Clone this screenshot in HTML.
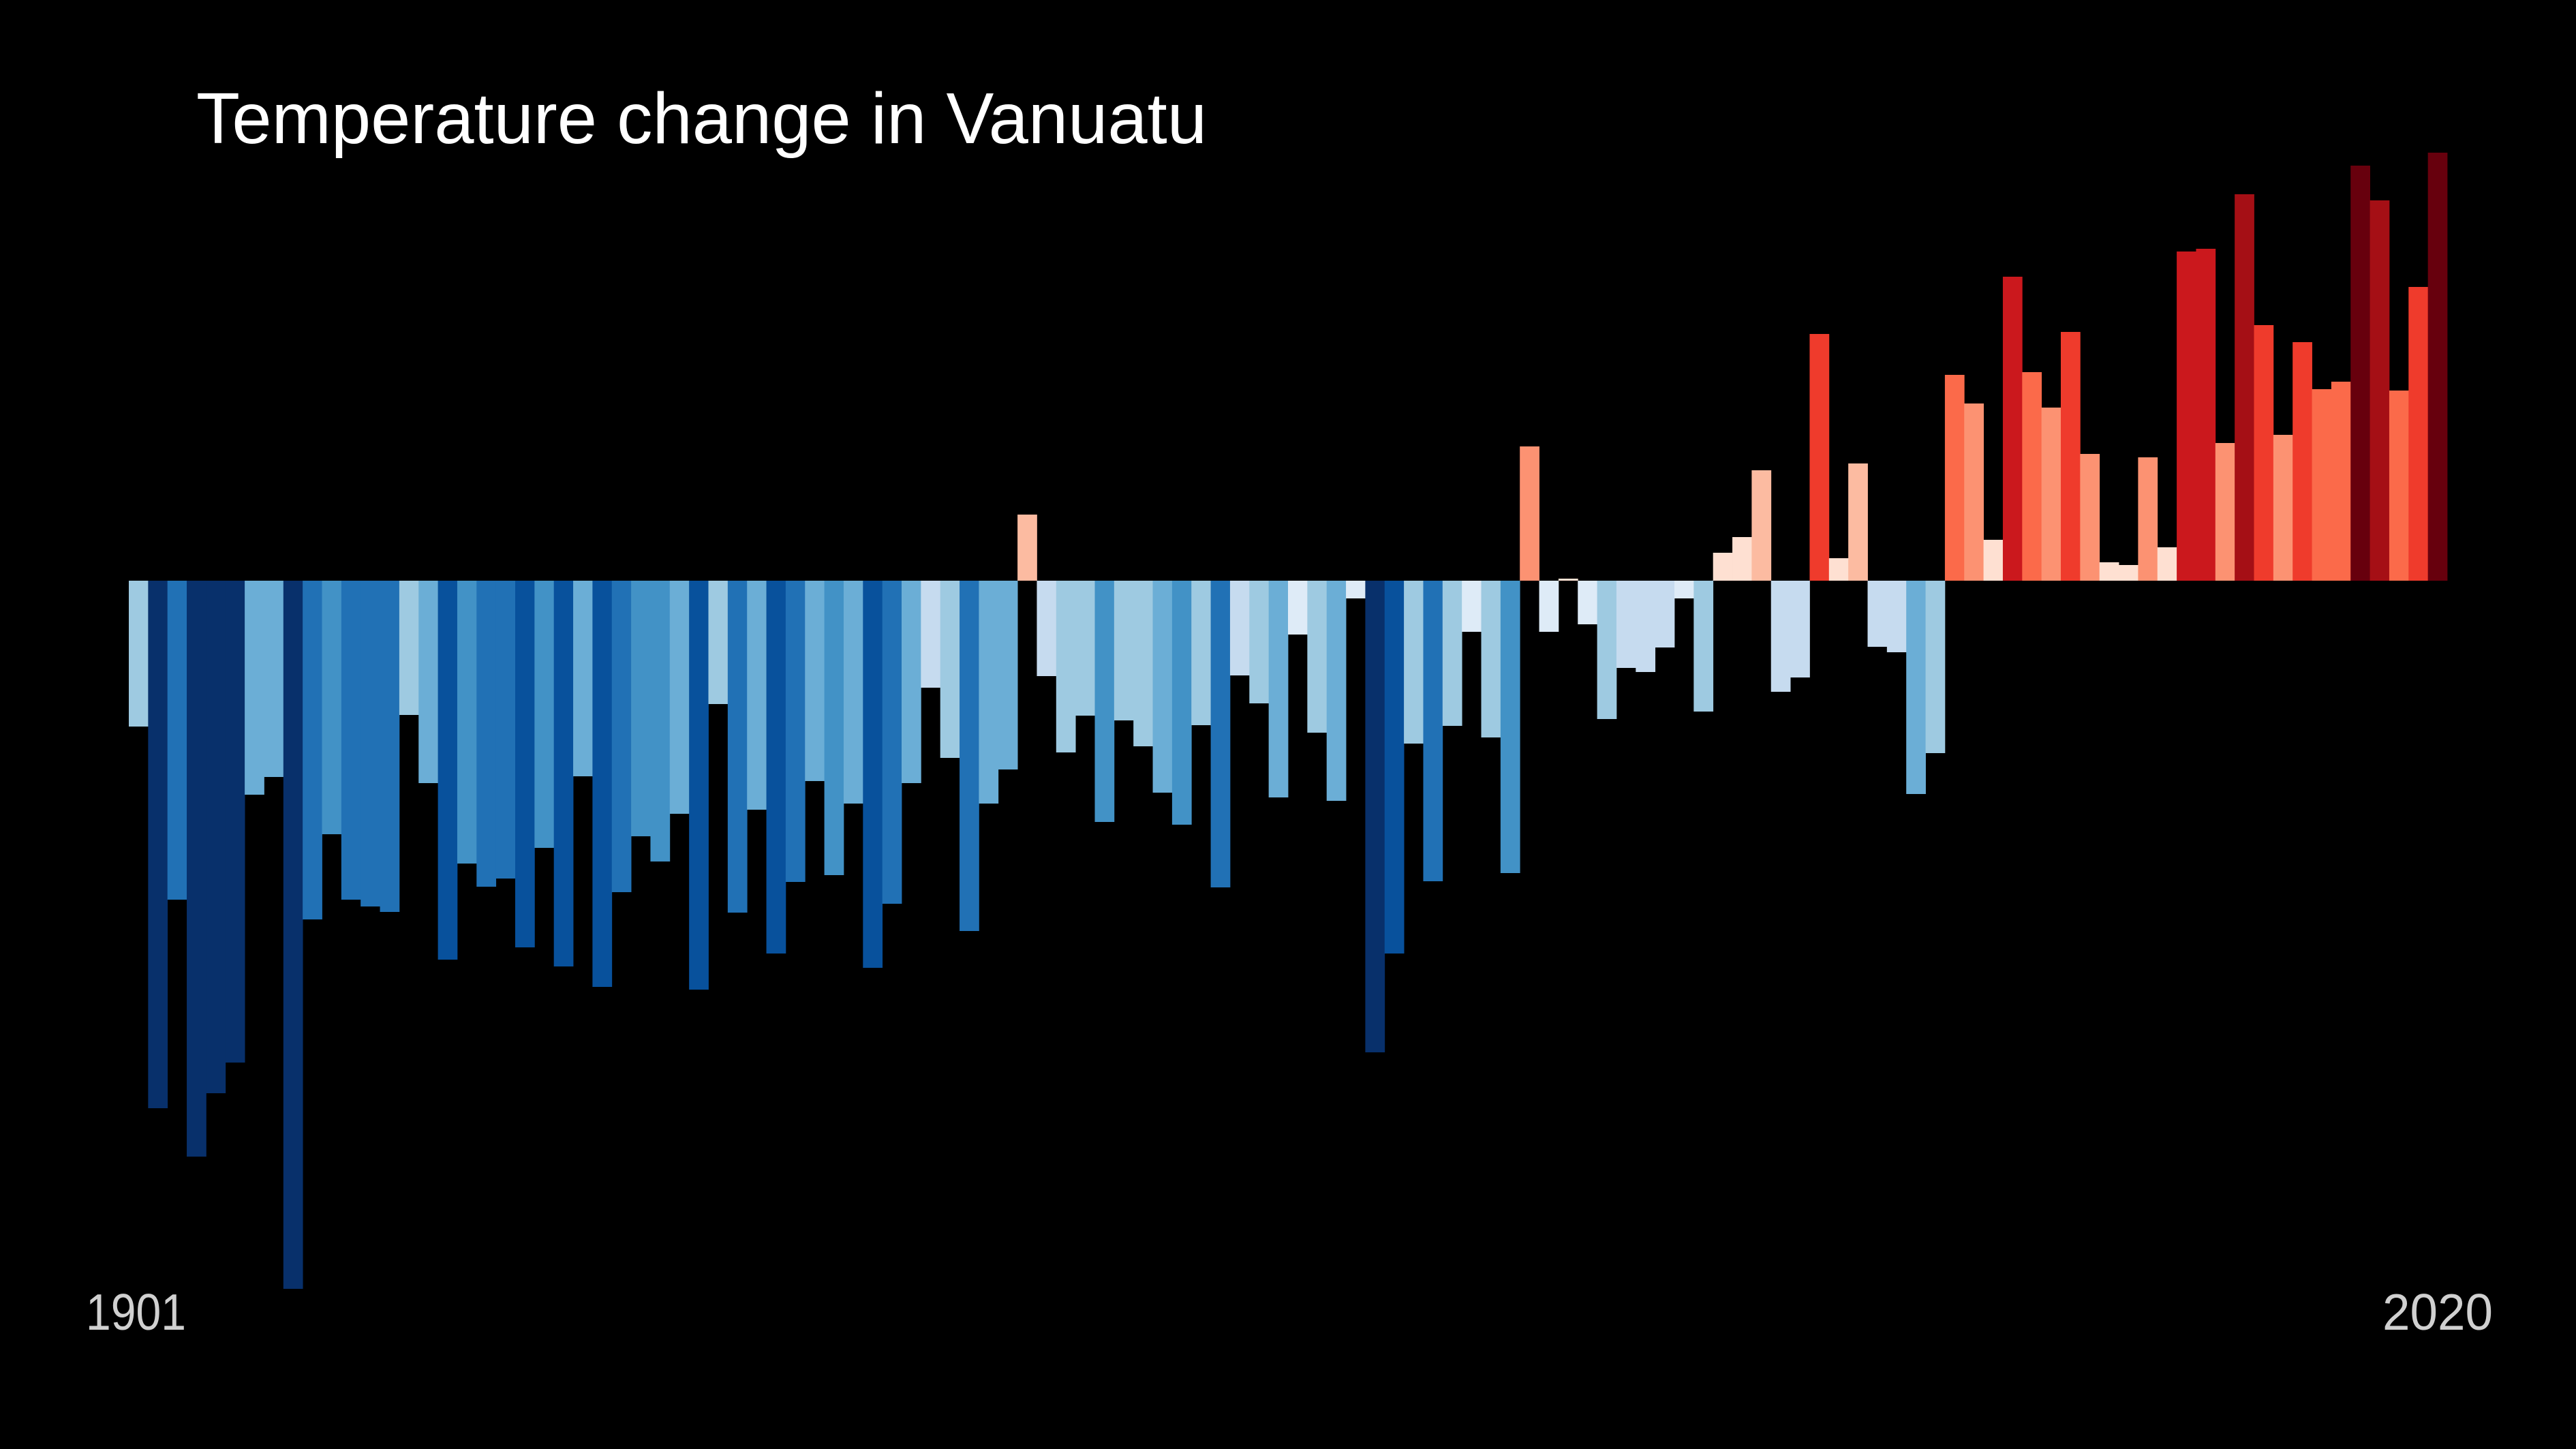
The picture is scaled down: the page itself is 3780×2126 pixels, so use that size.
<!DOCTYPE html>
<html><head><meta charset="utf-8">
<style>
html,body{margin:0;padding:0;background:#000;}
svg{display:block;}
</style></head>
<body>
<svg id="chart" xmlns="http://www.w3.org/2000/svg" width="3780" height="2126" viewBox="0 0 3780 2126">
<rect x="0" y="0" width="3780" height="2126" fill="#000"/>
<text x="288" y="210" font-family="'Liberation Sans', sans-serif" font-size="106" fill="#ffffff" textLength="1483" lengthAdjust="spacingAndGlyphs">Temperature change in Vanuatu</text>
<g id="bars"></g>
<text id="startLabel" x="126" y="1951" font-family="'Liberation Sans', sans-serif" font-size="75" fill="#d0d0d0" textLength="147" lengthAdjust="spacingAndGlyphs"></text>
<text id="endLabel" x="3496" y="1951" font-family="'Liberation Sans', sans-serif" font-size="75" fill="#d0d0d0" textLength="162" lengthAdjust="spacingAndGlyphs"></text>
</svg>
<script>
const startYear = 1901;
const endYear = 2020;
const axisLabels = ["1901", "2020"];
const anomalies = [
-0.214,-0.774,-0.468,-0.845,-0.752,-0.707,-0.314,-0.288,-1.039,-0.497,
-0.372,-0.468,-0.478,-0.486,-0.197,-0.297,-0.556,-0.415,-0.449,-0.437,
-0.538,-0.392,-0.566,-0.287,-0.596,-0.457,-0.375,-0.412,-0.342,-0.600,
-0.181,-0.487,-0.336,-0.547,-0.442,-0.294,-0.432,-0.327,-0.568,-0.474,
-0.297,-0.157,-0.260,-0.514,-0.327,-0.277,0.097,-0.140,-0.252,-0.198,
-0.354,-0.205,-0.243,-0.311,-0.358,-0.212,-0.450,-0.139,-0.180,-0.318,
-0.079,-0.223,-0.323,-0.026,-0.692,-0.547,-0.239,-0.441,-0.213,-0.075,
-0.230,-0.429,0.197,-0.075,0.003,-0.064,-0.203,-0.128,-0.134,-0.098,
-0.026,-0.192,0.041,0.064,0.162,-0.163,-0.142,0.362,0.033,0.172,
-0.097,-0.105,-0.313,-0.253,0.302,0.260,0.060,0.446,0.306,0.254,
0.365,0.186,0.027,0.023,0.181,0.049,0.483,0.487,0.202,0.567,
0.375,0.214,0.350,0.281,0.292,0.609,0.558,0.279,0.431,0.628
];

const X0 = 189, BAR_W = 28.35, Y0 = 852, PX_PER_UNIT = 1000;
function xScale(i){ return X0 + i * BAR_W; }
function yScale(v){ return Y0 - v * PX_PER_UNIT; }
function colorFor(v){
  if (v < 0) {
    const a = -v;
    if (a > 0.65) return "#08306b";
    if (a > 0.53) return "#08519c";
    if (a > 0.435) return "#2171b5";
    if (a > 0.345) return "#4292c6";
    if (a > 0.27) return "#6baed6";
    if (a > 0.17) return "#9ecae1";
    if (a > 0.09) return "#c6dbef";
    return "#deebf7";
  }
  if (v > 0.59) return "#67000d";
  if (v > 0.52) return "#a50f15";
  if (v > 0.44) return "#cb181d";
  if (v > 0.34) return "#ef3b2c";
  if (v > 0.265) return "#fb6a4a";
  if (v > 0.175) return "#fc9272";
  if (v > 0.07) return "#fcbba1";
  return "#fee0d2";
}
const g = document.getElementById('bars');
const NS = "http://www.w3.org/2000/svg";
anomalies.forEach(function(v, i){
  const r = document.createElementNS(NS, 'rect');
  const y1 = yScale(v), y2 = yScale(0);
  r.setAttribute('x', xScale(i));
  r.setAttribute('width', BAR_W + 0.4);
  r.setAttribute('y', Math.min(y1, y2));
  r.setAttribute('height', Math.max(Math.abs(y2 - y1), 0.5));
  r.setAttribute('fill', colorFor(v));
  
  
  g.appendChild(r);
});
document.getElementById('startLabel').textContent = axisLabels[0];
document.getElementById('endLabel').textContent = axisLabels[1];
</script>
</body></html>
